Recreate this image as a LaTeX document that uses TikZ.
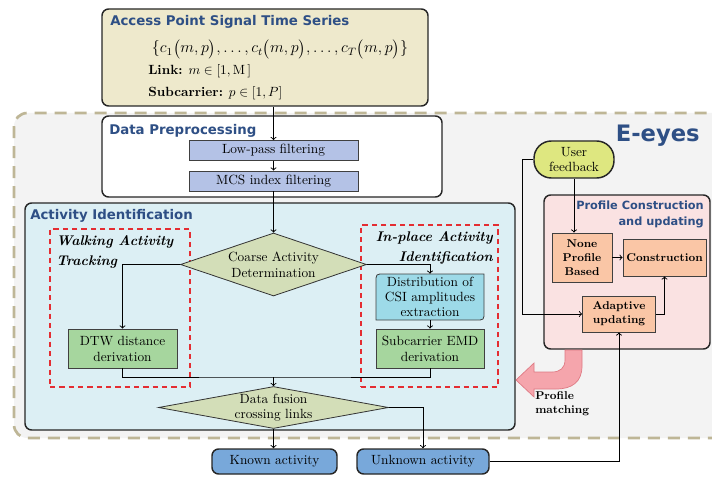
\documentclass[tikz,border=0pt]{standalone}
\usepackage{amsmath}
\usepackage{amssymb}
\usepackage{fontspec}
\newfontfamily\headfont{DejaVu Sans}
\usepackage{tikz}
\usetikzlibrary{calc,arrows,shapes,shapes.geometric,positioning}

\definecolor{headblue}{RGB}{46,79,133}
\definecolor{apfill}{RGB}{238,233,204}
\definecolor{eyesfill}{RGB}{243,243,243}
\definecolor{eyesline}{RGB}{190,182,150}
\definecolor{lpfill}{RGB}{180,194,230}
\definecolor{identfill}{RGB}{220,239,244}
\definecolor{decfill}{RGB}{211,222,184}
\definecolor{greenfill}{RGB}{166,214,158}
\definecolor{csifill}{RGB}{157,218,232}
\definecolor{actfill}{RGB}{120,168,218}
\definecolor{userfill}{RGB}{222,231,128}
\definecolor{proffill}{RGB}{250,226,226}
\definecolor{peachfill}{RGB}{250,198,166}
\definecolor{redline}{RGB}{228,45,50}
\definecolor{pinkfill}{RGB}{245,165,172}
\definecolor{pinkline}{RGB}{222,120,130}

\begin{document}
\begin{tikzpicture}[x=0.75pt, y=-0.75pt, >=to,
		container/.style={draw=black!85, line width=1.1pt, rounded corners=5pt, inner sep=0},
		head/.style={font=\headfont\bfseries\fontsize{10}{12}\selectfont, text=headblue, inner sep=0},
		procbox/.style={draw=black!75, line width=0.6pt, inner sep=0, align=center},
		decision/.style={diamond, draw=black!80, line width=0.6pt, fill=decfill, inner sep=0, aspect=3},
		peachbox/.style={procbox, fill=peachfill, font=\bfseries\fontsize{8.5}{10.5}\selectfont},
		actbox/.style={procbox, fill=actfill, line width=1.1pt, draw=black!85, rounded corners=5pt},
		redbox/.style={draw=redline, dashed, line width=0.8pt, dash pattern=on 4pt off 3pt, inner sep=0},
		conn/.style={line width=0.7pt}]
	\useasboundingbox (0,0) rectangle (712,477);

	\node[container, draw=eyesline, fill=eyesfill, line width=2pt, dash pattern=on 9pt off 6pt, rounded corners=10pt,
		minimum width=544.5pt, minimum height=243.75pt] (eyes) at (377,275.5) {};
	\node[font=\headfont\bfseries\fontsize{17}{19}\selectfont, text=headblue, inner sep=0, anchor=base east] (eyestitle) at (700,142) {E-eyes};

	\node[container, fill=apfill, minimum width=244.5pt, minimum height=72.75pt] (ap) at (265,57.5) {};
	\node[head, anchor=base west] (aptitle) at (110,26) {Access Point Signal Time Series};
	\node[inner sep=0, anchor=base, font=\large] (series) at (280,53)
		{$\{c_1\bigl(m,p\bigr),\ldots,c_t\bigl(m,p\bigr),\ldots,c_T\bigl(m,p\bigr)\}$};
	\node[inner sep=0, anchor=base west] (link) at (148,75) {\textbf{Link:} $m\in[1,\mathrm{M}\,]$};
	\node[inner sep=0, anchor=base west] (subc) at (148,97) {\textbf{Subcarrier:} $p\in[1,P]$};

	\node[container, fill=white, minimum width=255pt, minimum height=60.75pt] (prep) at (272,156.5) {};
	\node[head, anchor=base west] (preptitle) at (109,135) {Data Preprocessing};
	\node[procbox, fill=lpfill, minimum width=126.75pt, minimum height=15pt] (lp) at (273.5,150.5) {Low-pass filtering};
	\node[procbox, fill=lpfill, minimum width=126.75pt, minimum height=15pt] (mcs) at (273.5,181) {MCS index filtering};

	\node[container, fill=identfill, minimum width=367.5pt, minimum height=170.25pt] (ident) at (270,316.5) {};
	\node[head, anchor=base west] (identtitle) at (30,219) {Activity Identification};

	\node[redbox, minimum width=105pt, minimum height=118.5pt] (walk) at (120,308) {};
	\node[inner sep=0, anchor=north west, align=left, font=\bfseries\itshape\fontsize{10.5}{15}\selectfont] (walktitle) at (56,235)
		{Walking Activity\\Tracking};
	\node[redbox, minimum width=102.75pt, minimum height=121.5pt] (inplace) at (429.5,306) {};
	\node[inner sep=0, anchor=north east, align=right, font=\bfseries\itshape\fontsize{10.5}{15}\selectfont] (inplacetitle) at (493,231)
		{In-place Activity\\Identification};

	\node[decision, minimum width=139.5pt, minimum height=47.25pt] (coarse) at (273.5,264.5) {};
	\node[inner sep=0, align=center, font=\fontsize{10}{12}\selectfont] (coarsetxt) at (273.5,264.5) {Coarse Activity\\Determination};

	\node[procbox, fill=greenfill, minimum width=81.75pt, minimum height=29.25pt] (dtw) at (122.5,348.5) {DTW distance\\derivation};

	\fill[csifill] (376,320) -- (376,282) .. controls (376,274) .. (384,274) -- (484,274) -- (484,312) .. controls (484,320) .. (476,320) -- cycle;
	\draw[black!75, line width=0.6pt] (376,320) -- (376,282) .. controls (376,274) .. (384,274) -- (484,274) -- (484,312) .. controls (484,320) .. (476,320) -- cycle;
	\node[inner sep=0, align=center, minimum width=81pt, minimum height=34.5pt, font=\fontsize{10}{11.5}\selectfont] (csi) at (430,297)
		{Distribution of\\CSI amplitudes\\extraction};
	\node[procbox, fill=greenfill, minimum width=81pt, minimum height=29.25pt] (emd) at (430,348.5) {Subcarrier EMD\\derivation};

	\node[decision, minimum width=172.5pt, minimum height=31.5pt] (fusion) at (273.5,407.5) {};
	\node[inner sep=0, align=center, font=\fontsize{10}{11.5}\selectfont] (fusiontxt) at (273.5,408) {Data fusion\\crossing links};

	\node[actbox, minimum width=93.75pt, minimum height=18.75pt] (known) at (274.5,461.5) {Known activity};
	\node[actbox, minimum width=99pt, minimum height=18.75pt] (unknown) at (423,461.5) {Unknown activity};

	\node[container, fill=proffill, minimum width=124.5pt, minimum height=115.5pt] (prof) at (627,272) {};
	\node[head, anchor=north east, align=right, font=\headfont\bfseries\fontsize{8.5}{12}\selectfont] (proftitle) at (704,201)
		{Profile Construction\\and updating};
	\node[peachbox, minimum width=45pt, minimum height=36.75pt] (none) at (582,257.5) {None\\Profile\\Based};
	\node[peachbox, minimum width=62.25pt, minimum height=27.75pt] (constr) at (664.5,257.5) {Construction};
	\node[peachbox, minimum width=54.75pt, minimum height=27pt] (adapt) at (619,314) {Adaptive\\updating};

	\node[procbox, fill=userfill, line width=1.1pt, draw=black!85, rounded corners=13pt, minimum width=60pt, minimum height=27.75pt,
		font=\fontsize{10}{11.5}\selectfont] (user) at (574,159.5) {User\\feedback};

	\coordinate (join) at (273.5,377);

	\draw[conn, ->] (ap.south -| lp.north) -- (lp.north);
	\draw[conn, ->] (lp) -- (mcs);
	\draw[conn, ->] (mcs) -- (coarse.north);
	\draw[conn, ->] (coarse.west) -| (dtw.north);
	\draw[conn, ->] (coarse.east) -| (csi.north);
	\draw[conn, ->] (csi) -- (emd);
	\draw[conn] (dtw.south) |- (join) -| (emd.south);
	\draw[conn, ->] (join) -- (fusion.north);
	\draw[conn, ->] (fusion.south) -- (known.north -| fusion.south);
	\draw[conn, ->] (fusion.east) -| (unknown.north);
	\draw[conn, ->] (unknown.east) -| (adapt.south);
	\draw[conn, ->] (user.west) -- ++(-11,0) |- (adapt.west);
	\draw[conn, ->] (user.south) -- (user.south |- none.north);
	\draw[conn, ->] (none) -- (constr);
	\draw[conn, ->] (adapt.east) -| (constr.south);

	\fill[pinkfill, draw=pinkline, line width=0.5pt] (565,350) -- (582,350) -- (582,366) .. controls (582,382) and (572,389) .. (556,389)
		-- (534,389) -- (534,397) -- (516,380) -- (534,363) -- (534,372) -- (552,372) .. controls (560,372) and (565,368) .. (565,360) -- cycle;
	\node[inner sep=0, anchor=north west, align=left, font=\bfseries\fontsize{8.5}{10.5}\selectfont] (matching) at (535,391)
		{Profile\\matching};
\end{tikzpicture}
\end{document}
